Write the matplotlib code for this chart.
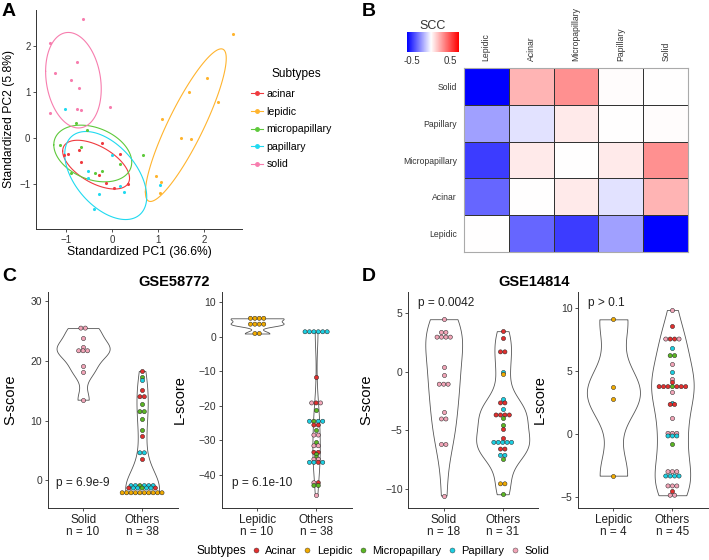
import numpy as np
import matplotlib
matplotlib.use("Agg")
import matplotlib.pyplot as plt
from matplotlib.colors import LinearSegmentedColormap, TwoSlopeNorm
from matplotlib.lines import Line2D

plt.rcParams['font.family'] = ['Liberation Sans', 'DejaVu Sans']

# ---------- data: panel A (PCA) ----------
PCA_ACINAR_X = [-0.22, -0.71, -0.96, 0.17, -0.68, -0.27, -0.12, 0.04, 0.36, -1.04]
PCA_ACINAR_Y = [-0.09, -0.25, -0.33, -0.35, -0.51, -0.79, -0.96, -1.07, -0.99, -0.37]
PCA_LEPIDIC_X = [2.63, 2.07, 1.68, 2.30, 1.10, 1.51, 1.72, 0.96, 1.07, 1.04]
PCA_LEPIDIC_Y = [2.27, 1.32, 1.01, 0.80, 0.43, 0.00, -0.02, -0.81, -0.95, -1.18]
PCA_MICRO_X = [-0.78, -0.55, -1.12, -0.67, 0.68, 0.17, -0.89, -0.36, -0.22]
PCA_MICRO_Y = [0.33, 0.19, -0.14, -0.18, -0.37, -0.56, -0.75, -0.76, -0.72]
PCA_PAPILLARY_X = [-1.01, 0.01, -0.51, -0.51, 0.17, 0.27, -0.27, -0.39, 1.04]
PCA_PAPILLARY_Y = [0.64, -0.37, -0.71, -0.86, -1.04, -1.17, -1.21, -1.53, -1.02]
PCA_SOLID_X = [-0.63, -1.35, -1.24, -0.75, -0.88, -0.71, -0.75, -0.67, -1.35, -0.03]
PCA_SOLID_Y = [2.59, 2.07, 1.43, 1.67, 1.27, 1.10, 0.64, 0.62, 0.56, 0.69]

# ---------- data: panel B (SCC heatmap) ----------
SCC_LABELS = ["Lepidic", "Acinar", "Micropapillary", "Papillary", "Solid"]
SCC = [[0.00, -0.37, -0.47, -0.23, -0.62],
       [-0.37, 0.00, 0.06, -0.07, 0.21],
       [-0.47, 0.06, 0.00, 0.06, 0.31],
       [-0.23, -0.07, 0.06, 0.00, 0.01],
       [-0.62, 0.21, 0.31, 0.01, 0.00]]

# ---------- data: panels C/D (violins), types: A acinar L lepidic M micropap. P papillary S solid ----------
C_S_SOLID = [25.5, 25.5, 23.8, 22.3, 21.7, 21.7, 21.7, 19.2, 18.1, 13.5]
C_S_SOLID_T = "SSSSSSSSSS"
C_S_OTHERS = [18.3, 17.3, 16.8, 15.2, 14.0, 14.0, 12.7, 11.5, 11.5, 10.2, 8.4, 7.5, 4.6, 4.6, 3.6,
              -0.9, -0.9, -0.9, -0.9, -0.9, -0.9,
              -1.3, -1.3, -1.3, -1.3, -1.3, -1.3, -1.3,
              -2.1, -2.1, -2.1, -2.1, -2.1, -2.1, -2.1, -2.1, -2.1, -2.1]
C_S_OTHERS_T = "AMPAAAMMMMMAPPA" + "PPMPPP" + "APPMPPA" + "LLLLLLLLLL"

C_L_LEPIDIC = [5.3, 5.3, 5.3, 5.3, 3.6, 3.6, 3.6, 3.6, 0.9, 0.9]
C_L_LEPIDIC_T = "LLLLLLLLLL"
C_L_OTHERS = [1.4, 1.4, 1.4, 1.4, 1.4, 1.4, -11.6, -19.2, -19.2, -19.2, -21.2,
              -24.5, -24.5, -24.5, -24.5, -25.6, -25.6, -27.0, -28.5, -28.5, -30.4,
              -31.6, -31.6, -33.5, -33.5, -34.1, -34.8, -35.5, -35.5,
              -36.4, -36.4, -36.4, -36.4, -42.3, -42.3, -43.1, -43.1, -45.9]
C_L_OTHERS_T = "PPPPPPASASMPMPPAAMSSMSSAAMMSSPPAPSAMMS"

D_S_SOLID = [4.5, 3.37, 3.37, 2.97, 2.97, 2.97, 2.97, 0.46, -0.28, -1.05, -1.05, -1.05,
             -3.45, -4.02, -4.02, -6.2, -6.2, -10.56]
D_S_SOLID_T = "SSSSSSSSSSSSSSSSSS"
D_S_OTHERS = [3.48, 2.86, 1.71, 1.71, 0.0, -0.22, -2.31, -2.65, -2.65, -3.19,
              -3.68, -3.68, -3.68, -3.68, -3.9, -4.54, -4.85, -5.62,
              -6.02, -6.02, -6.02, -6.02, -6.02, -6.59, -6.59, -7.13, -7.13, -7.42,
              -9.56, -9.56, -10.45]
D_S_OTHERS_T = "AAAAPLPAAPAAAAMMAAPPPPPAAPPMLLM"

D_L_LEPIDIC = [9.13, 3.77, 2.76, -3.32]
D_L_LEPIDIC_T = "LLLL"
D_L_OTHERS = [9.87, 8.6, 7.56, 7.56, 7.56, 7.56, 6.82, 6.24, 6.24, 5.57, 4.94, 4.41, 4.14,
              3.77, 3.77, 3.77, 3.77, 3.77, 3.77, 3.77, 3.37, 2.49, 2.35, 2.35, 1.25,
              0.05, 0.05, 0.05, -0.16, -0.16, -0.16, -0.8,
              -3.0, -3.0, -3.0, -3.35, -3.35, -3.35, -3.35,
              -4.14, -4.14, -4.14, -4.51, -4.88, -4.88]
D_L_OTHERS_T = "SASAASPMMSPSAAAAMAAASPAASSSSPPPMSSSPPPPSSSASS"

SUBTYPES = ["Acinar", "Lepidic", "Micropapillary", "Papillary", "Solid"]
PCA_COLORS = {"acinar": "#EF3A3F", "lepidic": "#FFB42E", "micropapillary": "#5EC93B",
              "papillary": "#20DAF0", "solid": "#F77DAE"}
DOT_COLORS = {"A": "#E2302F", "L": "#F0AA00", "M": "#5BB624", "P": "#1CCFE2", "S": "#F2A5B8"}

W, H = 709, 560
fig = plt.figure(figsize=(W / 100, H / 100), dpi=100)


def box(l, t, r, b):
    return [l / W, 1 - b / H, (r - l) / W, (b - t) / H]


def classic(ax):
    for s in ("top", "right"):
        ax.spines[s].set_visible(False)
    for s in ("left", "bottom"):
        ax.spines[s].set_color("#333333")
        ax.spines[s].set_linewidth(0.7)
    ax.tick_params(length=2.5, width=0.6, color="#333333", pad=1.5)


# ---------- ggbiplot-style ellipse: mean + sqrt(qchisq(p, 2)) * circle %*% chol(cov) ----------
def ellipse(x, y, prob=0.68):
    X = np.column_stack([x, y])
    mu = X.mean(0)
    sigma = np.cov(X, rowvar=False)
    ed = np.sqrt(-2 * np.log(1 - prob))
    t = np.linspace(-np.pi, np.pi, 101)
    circ = np.column_stack([np.cos(t), np.sin(t)])
    L = np.linalg.cholesky(sigma)
    pts = mu + ed * circ @ L.T
    return pts[:, 0], pts[:, 1]


# ---------- Panel A ----------
ax_a = fig.add_axes(box(36, 10, 242, 229))
classic(ax_a)
pca_groups = [("acinar", PCA_ACINAR_X, PCA_ACINAR_Y), ("lepidic", PCA_LEPIDIC_X, PCA_LEPIDIC_Y),
              ("micropapillary", PCA_MICRO_X, PCA_MICRO_Y), ("papillary", PCA_PAPILLARY_X, PCA_PAPILLARY_Y),
              ("solid", PCA_SOLID_X, PCA_SOLID_Y)]
handles = []
for name, gx, gy in pca_groups:
    c = PCA_COLORS[name]
    ax_a.scatter(gx, gy, s=5, color=c, linewidths=0, zorder=3)
    ex, ey = ellipse(np.array(gx), np.array(gy))
    ax_a.plot(ex, ey, color=c, lw=0.8)
    handles.append(Line2D([], [], color=c, lw=0.8, marker="o", markersize=2.5, label=name))
ax_a.set_xlim(-1.65, 2.83)
ax_a.set_ylim(-1.97, 2.79)
ax_a.set_xticks([-1, 0, 1, 2])
ax_a.set_yticks([-1, 0, 1, 2])
ax_a.tick_params(labelsize=7, labelcolor="#333333")
ax_a.set_xlabel("Standardized PC1 (36.6%)", fontsize=8.7, labelpad=1)
ax_a.set_ylabel("Standardized PC2 (5.8%)", fontsize=8.7)
ax_a.yaxis.set_label_coords(-0.102, 0.5)
fig.text(272 / W, 1 - 74 / H, "Subtypes", fontsize=8.6, ha="left", va="center")
fig.legend(handles=handles, loc="upper left", bbox_to_anchor=(251 / W, 1 - 89 / H),
           frameon=False, fontsize=7.6, handlelength=1.1, handletextpad=0.35,
           labelspacing=0.72, borderpad=0, borderaxespad=0)

# ---------- Panel B ----------
cmap = LinearSegmentedColormap.from_list("bwr2", ["#0000FF", "#FFFFFF", "#FF0000"])
norm = TwoSlopeNorm(vmin=-0.62, vcenter=0, vmax=0.72)
ax_b = fig.add_axes(box(463.7, 68.3, 688.3, 251.7))
ax_b.pcolormesh(np.array(SCC), cmap=cmap, norm=norm, edgecolors="#333333", linewidth=0.5)
ax_b.set_xticks(np.arange(5) + 0.5)
ax_b.set_yticks(np.arange(5) + 0.5)
ax_b.xaxis.tick_top()
ax_b.set_xticklabels(SCC_LABELS, rotation=90, fontsize=6.2, color="#333333")
ax_b.set_yticklabels(SCC_LABELS, fontsize=6.2, color="#333333")
ax_b.tick_params(length=0, pad=5)
for s in ax_b.spines.values():
    s.set_color("#AAAAAA")
    s.set_linewidth(0.8)

ax_cb = fig.add_axes(box(407, 32, 458.3, 52.3))
grad = np.linspace(-0.62, 0.72, 256)[None, :]
ax_cb.imshow(grad, cmap=cmap, norm=norm, aspect="auto", extent=[-0.62, 0.72, 0, 1])
ax_cb.set_yticks([])
ax_cb.set_xticks([-0.5, 0.5])
ax_cb.set_xticklabels(["-0.5", "0.5"], fontsize=7, color="#333333")
ax_cb.tick_params(axis="x", length=2, color="white", pad=1)
for s in ax_cb.spines.values():
    s.set_visible(False)
ax_cb.set_title("SCC", fontsize=9, pad=1.5, color="#333333")


# ---------- Panels C/D ----------
def nrd0(x):
    hi = np.std(x, ddof=1)
    q75, q25 = np.percentile(x, [75, 25])
    lo = min(hi, (q75 - q25) / 1.34)
    if lo == 0:
        lo = hi
    return 0.9 * lo * len(x) ** -0.2


def violin_panel(ax, groups, ylim, yticks, xlabels, ylabel, ptext, pxy, ylab_x):
    classic(ax)
    dens = []
    for vals, _ in groups:
        v = np.asarray(vals, float)
        grid = np.linspace(v.min(), v.max(), 512)
        bw = nrd0(v)
        d = np.exp(-0.5 * ((grid[:, None] - v[None, :]) / bw) ** 2).sum(1) / (len(v) * bw * np.sqrt(2 * np.pi))
        dens.append((grid, d))
    dmax = max(d.max() for _, d in dens)
    for i, ((grid, d), (vals, types)) in enumerate(zip(dens, groups)):
        xpos = i + 1
        hw = 0.45 * d / dmax
        ax.fill_betweenx(grid, xpos - hw, xpos + hw, facecolor="white", edgecolor="#555555", lw=0.6, zorder=2)
        rows = {}
        for v, t in zip(vals, types):
            rows.setdefault(v, []).append(t)
        for v, ts in rows.items():
            k = len(ts)
            offs = (np.arange(k) - (k - 1) / 2) * 0.075
            ax.scatter(xpos + offs, [v] * k, s=9, c=[DOT_COLORS[t] for t in ts],
                       edgecolors="#222222", linewidths=0.35, zorder=3)
    ax.set_xlim(0.4, 2.6)
    ax.set_ylim(*ylim)
    ax.set_yticks(yticks)
    ax.set_xticks([1, 2])
    ax.set_xticklabels(xlabels, fontsize=8.5, linespacing=1.0, color="#222222")
    ax.tick_params(axis="y", labelsize=7.5, labelcolor="#333333")
    ax.set_ylabel(ylabel, fontsize=10.5)
    ax.yaxis.set_label_coords(ylab_x, 0.5)
    ax.text(pxy[0], pxy[1], ptext, transform=ax.transAxes, fontsize=8.6, ha="left", va="center",
            color="#222222")


ax_c1 = fig.add_axes(box(47.7, 291.7, 177.5, 508.3))
violin_panel(ax_c1, [(C_S_SOLID, C_S_SOLID_T), (C_S_OTHERS, C_S_OTHERS_T)], (-4.7, 31.6), [0, 10, 20, 30],
             ["Solid\nn = 10", "Others\nn = 38"], "S-score", "p = 6.9e-9", (0.064, 0.118), -0.235)
ax_c2 = fig.add_axes(box(221.7, 291.7, 351.5, 508.3))
violin_panel(ax_c2, [(C_L_LEPIDIC, C_L_LEPIDIC_T), (C_L_OTHERS, C_L_OTHERS_T)], (-49.7, 13.0),
             [-40, -30, -20, -10, 0, 10], ["Lepidic\nn = 10", "Others\nn = 38"], "L-score", "p = 6.1e-10",
             (0.082, 0.118), -0.27)
ax_d1 = fig.add_axes(box(408.3, 291.7, 538.1, 508.3))
violin_panel(ax_d1, [(D_S_SOLID, D_S_SOLID_T), (D_S_OTHERS, D_S_OTHERS_T)], (-11.65, 6.85), [-10, -5, 0, 5],
             ["Solid\nn = 18", "Others\nn = 31"], "S-score", "p = 0.0042", (0.077, 0.946), -0.27)
ax_d2 = fig.add_axes(box(578, 291.7, 707.8, 508.3))
violin_panel(ax_d2, [(D_L_LEPIDIC, D_L_LEPIDIC_T), (D_L_OTHERS, D_L_OTHERS_T)], (-5.92, 11.33), [-5, 0, 5, 10],
             ["Lepidic\nn = 4", "Others\nn = 45"], "L-score", "p > 0.1", (0.079, 0.946), -0.24)

# titles and panel letters
fig.text(174 / W, 1 - 281.7 / H, "GSE58772", fontsize=10.5, fontweight="bold", ha="center", va="center")
fig.text(534 / W, 1 - 281.7 / H, "GSE14814", fontsize=10.5, fontweight="bold", ha="center", va="center")
for letter, px, py in [("A", 2, 3), ("B", 362, 3), ("C", 2, 268), ("D", 362, 268)]:
    fig.text(px / W, 1 - py / H, letter, fontsize=14, fontweight="bold", ha="left", va="top")

# bottom legend
fig.text(196.7 / W, 1 - 550.7 / H, "Subtypes", fontsize=8.6, ha="left", va="center")
leg_handles = [Line2D([], [], ls="", marker="o", markersize=3.6, markerfacecolor=DOT_COLORS[k],
                      markeredgecolor="#333333", markeredgewidth=0.3) for k in "ALMPS"]
fig.legend(leg_handles, SUBTYPES, ncol=5, loc="center left", bbox_to_anchor=(250 / W, 1 - 550.7 / H),
           frameon=False, fontsize=8, handlelength=1.0, handletextpad=0.35, columnspacing=0.45,
           borderpad=0, borderaxespad=0)

fig.savefig("out.png", dpi=100)
